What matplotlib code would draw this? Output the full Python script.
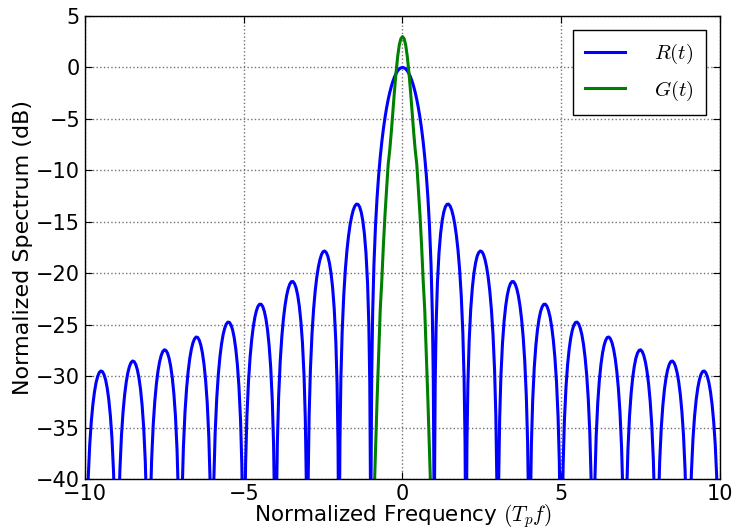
import matplotlib
matplotlib.use('Agg')
import matplotlib.pyplot as plt
import numpy as np

# main lobe of R(t), 0 <= f <= 1
r_main_freq = [0.0, 0.05, 0.1, 0.15, 0.2, 0.25, 0.3, 0.35, 0.4, 0.45, 0.5,
               0.55, 0.6, 0.65, 0.7, 0.75, 0.8, 0.85, 0.9, 0.94, 0.97, 0.99, 1.0]
r_main_db = [0.0, -0.04, -0.14, -0.32, -0.58, -0.91, -1.33, -1.83, -2.42, -3.11, -3.92,
             -4.86, -5.94, -7.20, -8.69, -10.45, -12.62, -15.39, -19.23, -23.95, -30.21, -39.91, -80.0]

# side lobes of R(t): lobe k spans k..k+1, sampled at these offsets
side_offsets = [0.01, 0.03, 0.06, 0.1, 0.15, 0.2, 0.25, 0.3, 0.35, 0.4, 0.45, 0.5,
                0.55, 0.6, 0.65, 0.7, 0.75, 0.8, 0.85, 0.9, 0.94, 0.97, 0.99, 1.0]
side_lobes = [1, 2, 3, 4, 5, 6, 7, 8, 9]
side_db = [
    [-40.09, -30.73, -24.99, -20.97, -18.02, -16.15, -14.89, -14.06, -13.55, -13.31, -13.28, -13.47,
     -13.86, -14.47, -15.29, -16.39, -17.81, -19.67, -22.15, -25.72, -30.24, -36.36, -45.98, -80],
    [-46.07, -36.62, -30.76, -26.59, -23.45, -21.41, -20.00, -19.02, -18.36, -17.99, -17.84, -17.90,
     -18.18, -18.68, -19.41, -20.41, -21.74, -23.51, -25.90, -29.39, -33.85, -39.93, -49.52, -80],
    [-49.57, -40.10, -34.20, -29.97, -26.77, -24.67, -23.19, -22.15, -21.44, -21.01, -20.81, -20.82,
     -21.06, -21.51, -22.19, -23.15, -24.43, -26.16, -28.51, -31.96, -36.39, -42.45, -52.02, -80],
    [-52.07, -42.58, -36.65, -32.40, -29.16, -27.03, -25.52, -24.45, -23.71, -23.25, -23.02, -23.01,
     -23.21, -23.64, -24.29, -25.23, -26.49, -28.19, -30.52, -33.95, -38.36, -44.40, -53.97, -80],
    [-54.00, -44.50, -38.57, -34.29, -31.04, -28.88, -27.36, -26.27, -25.51, -25.03, -24.78, -24.75,
     -24.94, -25.35, -25.98, -26.90, -28.15, -29.83, -32.15, -35.56, -39.96, -45.99, -55.55, -80],
    [-55.58, -46.08, -40.13, -35.85, -32.58, -30.41, -28.87, -27.77, -27.00, -26.51, -26.24, -26.20,
     -26.38, -26.77, -27.40, -28.30, -29.54, -31.21, -33.52, -36.92, -41.31, -47.34, -56.89, -80],
    [-56.92, -47.41, -41.46, -37.17, -33.89, -31.71, -30.16, -29.05, -28.27, -27.77, -27.50, -27.44,
     -27.61, -28.00, -28.62, -29.51, -30.74, -32.41, -34.70, -38.10, -42.48, -48.50, -58.06, -80],
    [-58.08, -48.57, -42.61, -38.31, -35.03, -32.84, -31.28, -30.17, -29.38, -28.87, -28.59, -28.53,
     -28.69, -29.07, -29.68, -30.57, -31.79, -33.45, -35.74, -39.13, -43.51, -49.53, -59.08, -80],
    [-59.10, -49.59, -43.63, -39.32, -36.03, -33.84, -32.28, -31.15, -30.36, -29.85, -29.56, -29.50,
     -29.65, -30.03, -30.63, -31.52, -32.73, -34.39, -36.67, -40.06, -44.43, -50.45, -59.99, -80],
]

# G(t), f >= 0
g_freq = [0.0, 0.05, 0.1, 0.15, 0.2, 0.25, 0.3, 0.35, 0.4, 0.45, 0.5,
          0.55, 0.6, 0.65, 0.7, 0.75, 0.8, 0.85, 0.9, 0.95]
g_db = [3.0, 2.8, 2.2, 1.1, -0.4, -2.2, -4.2, -6.2, -8.0, -9.4, -11.8,
        -14.3, -17.2, -20.6, -23.5, -27.9, -32.3, -37.3, -42.3, -48.0]

# assemble positive half, then mirror (spectrum is symmetric)
r_pos_f = list(r_main_freq)
r_pos_db = list(r_main_db)
for k, row in zip(side_lobes, side_db):
    r_pos_f += [k + u for u in side_offsets]
    r_pos_db += row
r_pos_f = np.array(r_pos_f)
r_pos_db = np.array(r_pos_db)
r_f = np.concatenate([-r_pos_f[::-1], r_pos_f[1:]])
r_db = np.concatenate([r_pos_db[::-1], r_pos_db[1:]])

g_pos_f = np.array(g_freq)
g_pos_db = np.array(g_db)
g_f = np.concatenate([-g_pos_f[::-1], g_pos_f[1:]])
g_y = np.concatenate([g_pos_db[::-1], g_pos_db[1:]])

plt.rcParams['mathtext.fontset'] = 'cm'
plt.rcParams['font.family'] = 'DejaVu Sans'

fig = plt.figure(figsize=(7.35, 5.31), dpi=100)
ax = fig.add_axes([0.1156, 0.0979, 0.864, 0.872])

ax.plot(r_f, r_db, color='b', lw=2.2, label='$R(t)$')
ax.plot(g_f, g_y, color=(0, 0.5, 0), lw=2.2, label='$G(t)$')

ax.set_xlim(-10, 10)
ax.set_ylim(-40, 5)
ax.set_xticks([-10, -5, 0, 5, 10])
ax.set_yticks(range(-40, 6, 5))
ax.grid(True, color='0.45', linestyle=':', linewidth=1)
ax.tick_params(labelsize=15, direction='in', top=True, right=True, length=5)
for s in ax.spines.values():
    s.set_linewidth(1)

ax.set_xlabel('Normalized Frequency $(T_p f)$', fontsize=15.5, labelpad=-1)
ax.set_ylabel('Normalized Spectrum (dB)', fontsize=16, labelpad=2)

leg = ax.legend(loc='upper right', fontsize=15, fancybox=False, handlelength=1.9,
                handletextpad=1.4, borderpad=0.6, labelspacing=0.6, framealpha=1,
                edgecolor='k', borderaxespad=0.65)
leg.get_frame().set_linewidth(1)

fig.savefig('out.png', dpi=100, facecolor='white')
